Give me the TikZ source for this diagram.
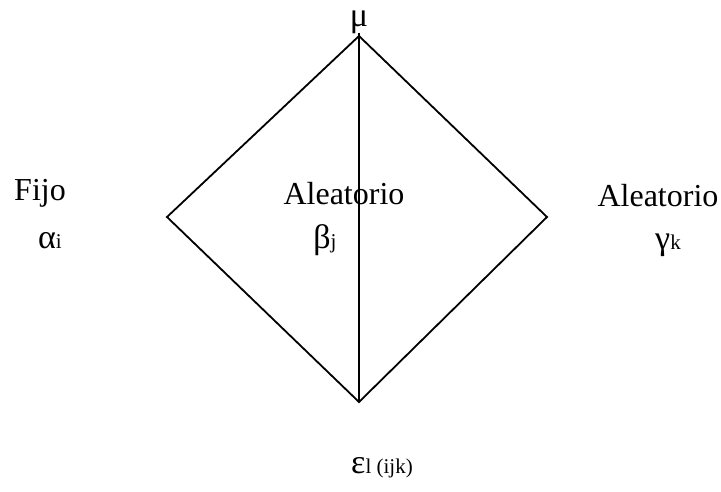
\documentclass[tikz,border=0pt]{standalone}
\usepackage{fontspec}
\setmainfont{Liberation Serif}
\begin{document}
\begin{tikzpicture}[x=1pt,y=-1pt,
  lbl/.style={inner sep=0pt,anchor=base,font=\fontsize{32}{36}\selectfont},
  edge/.style={line width=1.8pt,line join=miter}]
\useasboundingbox (0,0) rectangle (721,492);
\coordinate (T) at (359,36);
\coordinate (Tx) at (359,33);
\coordinate (L) at (167,217);
\coordinate (R) at (547,217);
\coordinate (B) at (359,402);
\draw[edge] (T) -- (L) -- (B) -- (R) -- cycle;
\draw[edge] (Tx) -- (B);
\node[lbl] (mu) at (359,27) {{\fontsize{34}{36}\selectfont μ}};
\node[lbl] (fijo) at (40,201) {Fijo};
\node[lbl] (alpha) at (50,248) {{\fontsize{34}{36}\selectfont α}{\fontsize{21}{24}\selectfont i}};
\node[lbl] (alea1) at (344,205) {Aleatorio};
\node[lbl] (beta) at (325,248) {{\fontsize{34}{36}\selectfont β}{\fontsize{21}{24}\selectfont j}};
\node[lbl] (alea2) at (658,207) {Aleatorio};
\node[lbl] (gamma) at (668,250) {{\fontsize{34}{36}\selectfont γ}{\fontsize{21}{24}\selectfont k}};
\node[lbl] (eps) at (382,473) {{\fontsize{34}{36}\selectfont ε}{\fontsize{21}{24}\selectfont l (ijk)}};
\end{tikzpicture}
\end{document}
